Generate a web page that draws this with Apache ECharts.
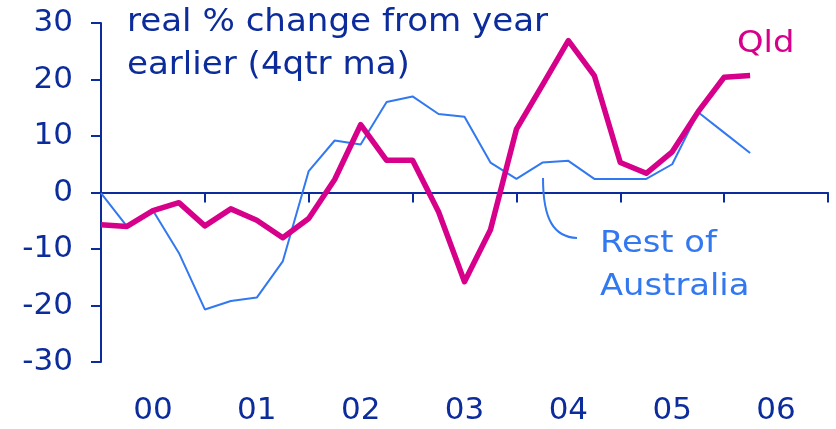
<!DOCTYPE html>
<html>
<head>
<meta charset="utf-8">
<script src="https://cdn.jsdelivr.net/npm/echarts@6/dist/echarts.min.js"></script>
<style>html,body{margin:0;padding:0;background:#fff}#c{width:836px;height:429px}</style>
</head>
<body>
<div id="c"></div>
<script>
// quarterly values, starting Q1 2000 (x = quarter index)
const yearLabels = ["00", "01", "02", "03", "04", "05", "06"];
const qld = [-5.7, -6.0, -3.2, -1.8, -5.9, -2.9, -4.9, -8.0, -4.6, 2.3, 12.0, 5.7, 5.7,
  -3.4, -15.8, -6.6, 11.2, 19.0, 26.9, 20.7, 5.3, 3.4, 7.2, 14.3, 20.4, 20.7];
const restOfAus = [-0.1, -6.0, -3.2, -10.7, -20.7, -19.2, -18.6, -12.2, 3.8, 9.2, 8.5, 16.0, 17.0,
  13.9, 13.4, 5.3, 2.4, 5.3, 5.6, 2.4, 2.4, 2.4, 5.0, 14.2, 10.6, 7.0];
const yTicks = { min: -30, max: 30, step: 10 };

const navy = "#0c2c9c", magenta = "#d6008a", sky = "#3278f0";
const FONT = "DejaVu Sans, Verdana, sans-serif";

const pairs = arr => arr.map((v, i) => [i, v]);

const chart = echarts.init(document.getElementById("c"), null, { renderer: "canvas" });

// text placed by baseline (top-aligned box, shifted up by ~0.87em)
const label = (text, x, baseline, color, size, sx) => ({
  type: "text", x, y: baseline - size * 0.87, scaleX: sx, z: 10,
  style: { text, fill: color, font: size + "px " + FONT, verticalAlign: "top" }
});

chart.setOption({
  animation: false,
  backgroundColor: "#fff",
  grid: { left: 101, right: 8, top: 23, bottom: 67, containLabel: false },
  xAxis: [
    {
      type: "value", min: 0, max: yearLabels.length * 4, interval: 4,
      axisLine: { onZero: true, lineStyle: { color: navy, width: 2 } },
      axisTick: { show: true, length: 10, lineStyle: { color: navy, width: 2 } },
      axisLabel: { show: false }, splitLine: { show: false }
    },
    {
      type: "category", data: yearLabels, position: "bottom", boundaryGap: true,
      axisLine: { show: false, onZero: false }, axisTick: { show: false },
      axisLabel: { color: navy, fontSize: 31, fontFamily: FONT, margin: 33 }
    }
  ],
  yAxis: {
    type: "value", min: yTicks.min, max: yTicks.max, interval: yTicks.step,
    axisLine: { show: true, lineStyle: { color: navy, width: 2 } },
    axisTick: { show: true, length: 10, lineStyle: { color: navy, width: 2 } },
    axisLabel: { color: navy, fontSize: 31, fontFamily: FONT, margin: 28 },
    splitLine: { show: false }
  },
  series: [
    { name: "Rest of Australia", type: "line", xAxisIndex: 0, data: pairs(restOfAus),
      symbol: "none", lineStyle: { color: sky, width: 2 } },
    { name: "Qld", type: "line", xAxisIndex: 0, data: pairs(qld),
      symbol: "none", lineStyle: { color: magenta, width: 5.5, join: "round" } }
  ],
  graphic: [
    label("real % change from year", 127, 34.5, navy, 32, 1.065),
    label("earlier (4qtr ma)", 127, 78, navy, 32, 1.065),
    label("Qld", 737, 55.5, magenta, 31, 1.09),
    label("Rest of", 600, 255, sky, 31, 1.09),
    label("Australia", 600, 298, sky, 31, 1.09),
    { type: "bezierCurve", z: 10,
      shape: { x1: 543, y1: 178, cpx1: 543, cpy1: 220, cpx2: 554, cpy2: 237, x2: 577, y2: 238 },
      style: { stroke: sky, lineWidth: 2, fill: null } }
  ]
});
</script>
</body>
</html>
